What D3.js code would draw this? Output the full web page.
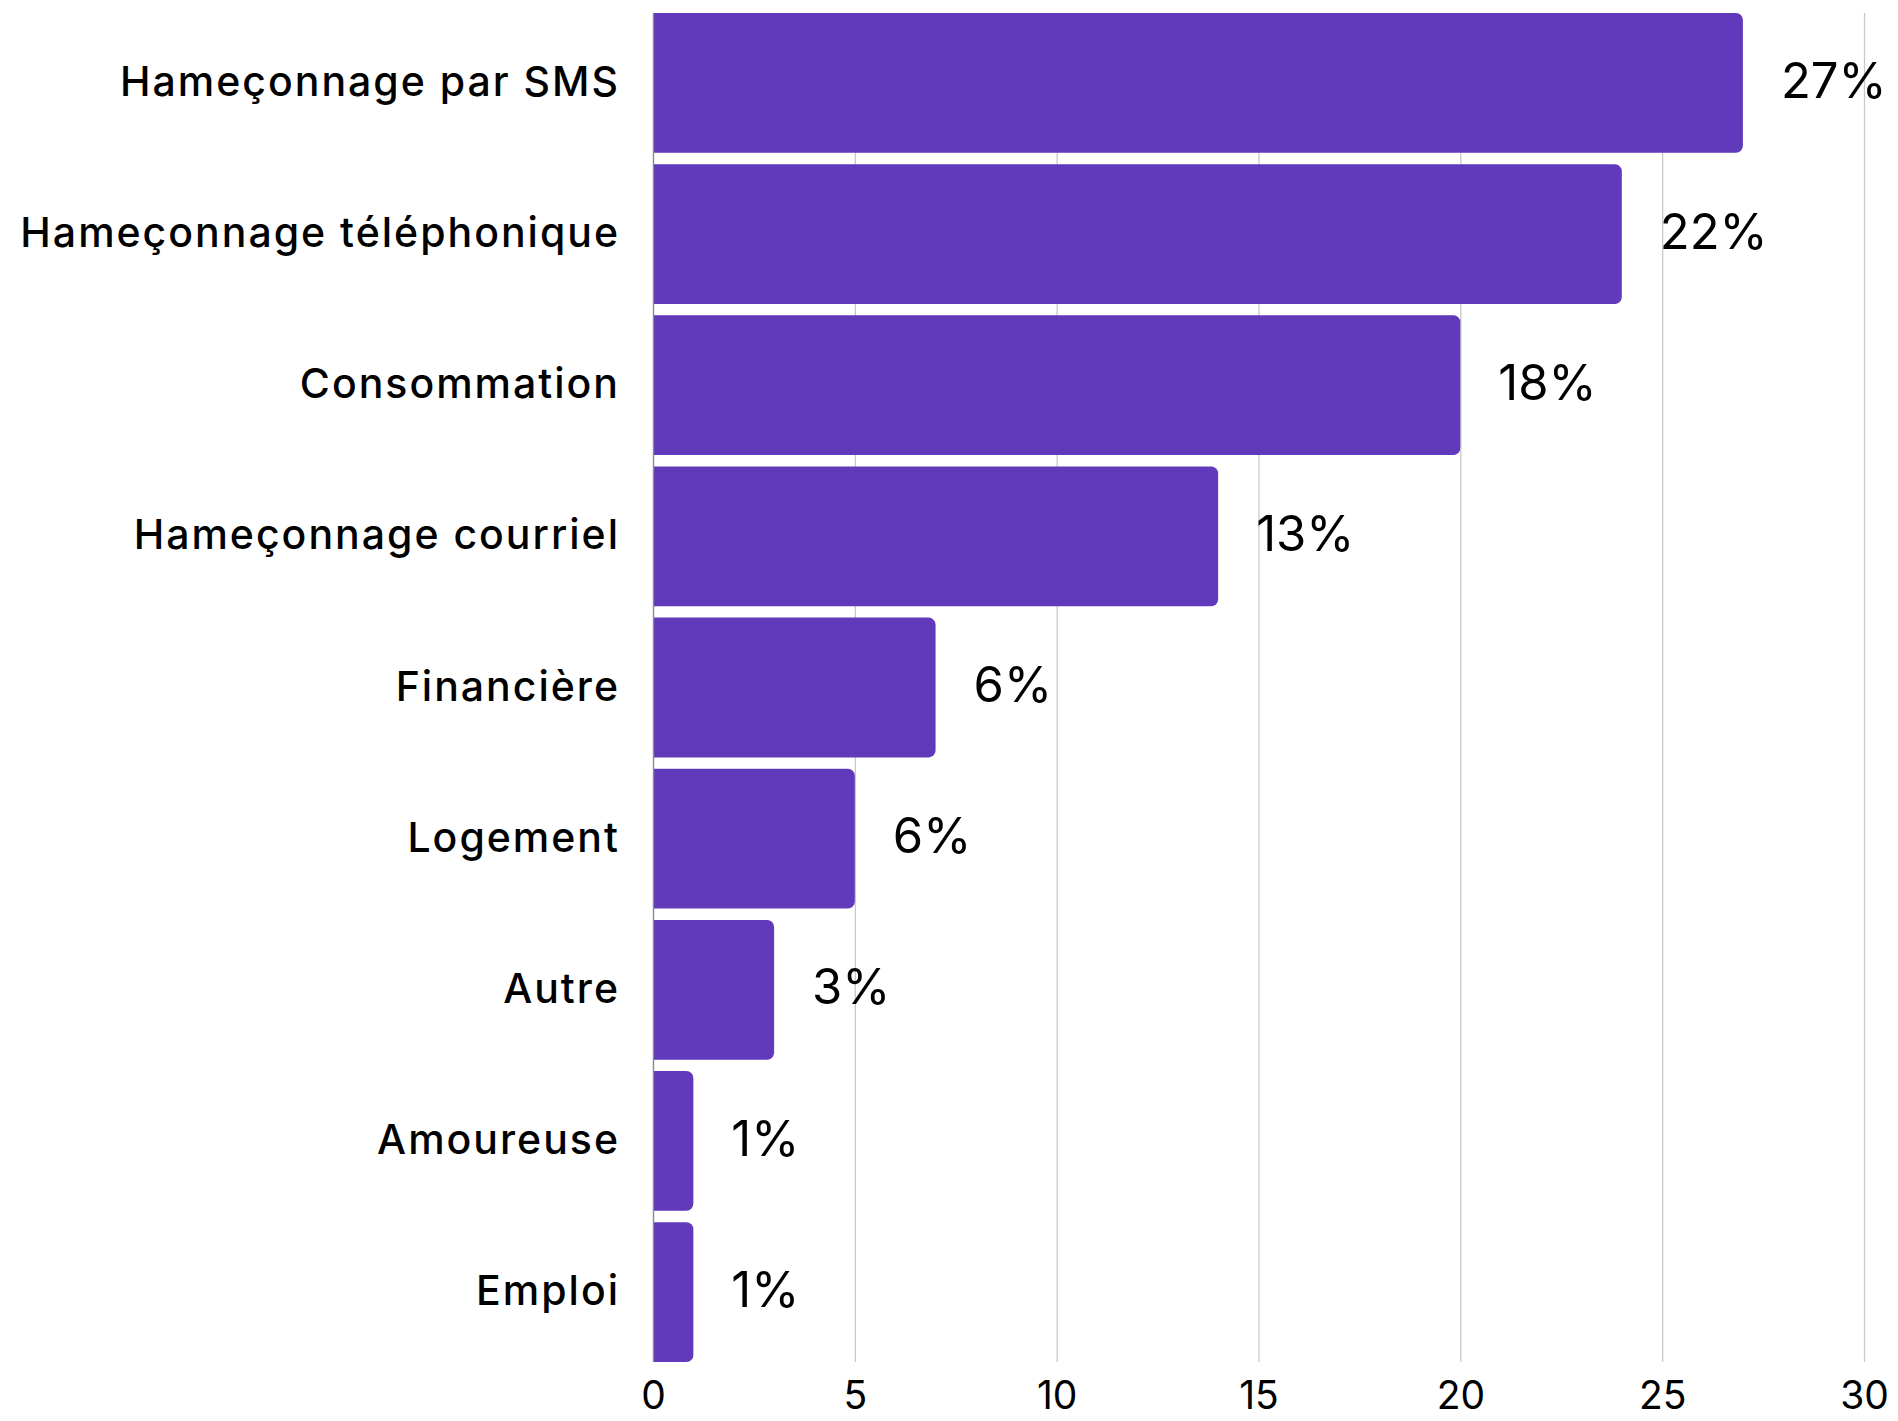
<!DOCTYPE html>
<html>
<head>
<meta charset="utf-8">
<script src="https://cdn.jsdelivr.net/npm/d3@7"></script>
<style>
    body { margin: 0; background: #fff; }
    .chart text { fill: #000; }
</style>
</head>
<body>
<div class="chart"></div>
<script>
// Types de fraude signalés
const CATEGORIES = [
    'Hameçonnage par SMS',
    'Hameçonnage téléphonique',
    'Consommation',
    'Hameçonnage courriel',
    'Financière',
    'Logement',
    'Autre',
    'Amoureuse',
    'Emploi',
]

// Bar lengths as drawn in the picture
const VALUES = [27, 24, 20, 14, 7, 5, 3, 1, 1]

// Annotations printed next to the bars
const LABELS = ['27%', '22%', '18%', '13%', '6%', '6%', '3%', '1%', '1%']

const TICKS = [0, 5, 10, 15, 20, 25, 30]

var svgWidth = 1898
var svgHeight = 1421

var margin = {
    top: 13,
    bottom: 59,
    left: 653,
    right: 34,
}

var width = svgWidth - margin.left - margin.right
var height = svgHeight - margin.top - margin.bottom

var data = CATEGORIES.map((c, i) => ({ cat: c, value: VALUES[i], label: LABELS[i] }))

var svg = d3.select('.chart')
    .append('svg')
    .attr('width', svgWidth)
    .attr('height', svgHeight)

var chartGroup = svg.append('g')
    .attr('transform', `translate(${margin.left}, ${margin.top})`)

var xScale = d3.scaleLinear()
    .domain([0, 30])
    .range([0, width])

var yScale = d3.scaleBand()
    .domain(CATEGORIES)
    .range([0, height])
    .paddingInner(0.075)
    .paddingOuter(0)

// Grid lines
var grid = chartGroup.append('g')
    .call(d3.axisBottom(xScale).tickValues(TICKS).tickSize(height).tickFormat(''))
grid.select('.domain').remove()
grid.selectAll('line')
    .attr('stroke', '#c9c9c9')
    .attr('stroke-width', 1.3)

// Bars, rounded on the right end only
var r = 7
chartGroup.selectAll('.bar')
    .data(data)
    .enter()
    .append('path')
    .classed('bar', true)
    .attr('fill', '#6139bb')
    .attr('d', d => {
        let x1 = xScale(d.value)
        let y0 = yScale(d.cat)
        let h = yScale.bandwidth()
        let p = d3.path()
        p.moveTo(0, y0)
        p.lineTo(x1 - r, y0)
        p.arcTo(x1, y0, x1, y0 + r, r)
        p.lineTo(x1, y0 + h - r)
        p.arcTo(x1, y0 + h, x1 - r, y0 + h, r)
        p.lineTo(0, y0 + h)
        p.closePath()
        return p.toString()
    })

// Left axis with category names
var yAxis = chartGroup.append('g')
    .call(d3.axisLeft(yScale).tickSize(0).tickPadding(33))
yAxis.select('.domain')
    .attr('stroke', '#8a8a8a')
    .attr('stroke-width', 1.3)
    .attr('d', `M0.5,0V${height}`)
yAxis.selectAll('text')
    .attr('font-family', 'Inter, sans-serif')
    .attr('font-weight', 500)
    .attr('font-size', '41px')
    .attr('letter-spacing', '2px')
    .attr('fill', '#000')
    .attr('dy', '0.32em')

// Bottom axis
var xAxis = chartGroup.append('g')
    .attr('transform', `translate(0, ${height})`)
    .call(d3.axisBottom(xScale).tickValues(TICKS).tickSize(0).tickPadding(19))
xAxis.select('.domain').remove()
xAxis.selectAll('text')
    .attr('font-family', 'Inter, sans-serif')
    .attr('font-size', '39px')
    .attr('fill', '#000')

// Value annotations
chartGroup.selectAll('.value')
    .data(data)
    .enter()
    .append('text')
    .classed('value', true)
    .attr('x', d => xScale(d.value) + 38)
    .attr('y', d => yScale(d.cat) + yScale.bandwidth() / 2)
    .attr('dy', '0.3em')
    .attr('font-family', 'Inter, sans-serif')
    .attr('font-size', '49px')
    .text(d => d.label)
</script>
</body>
</html>
